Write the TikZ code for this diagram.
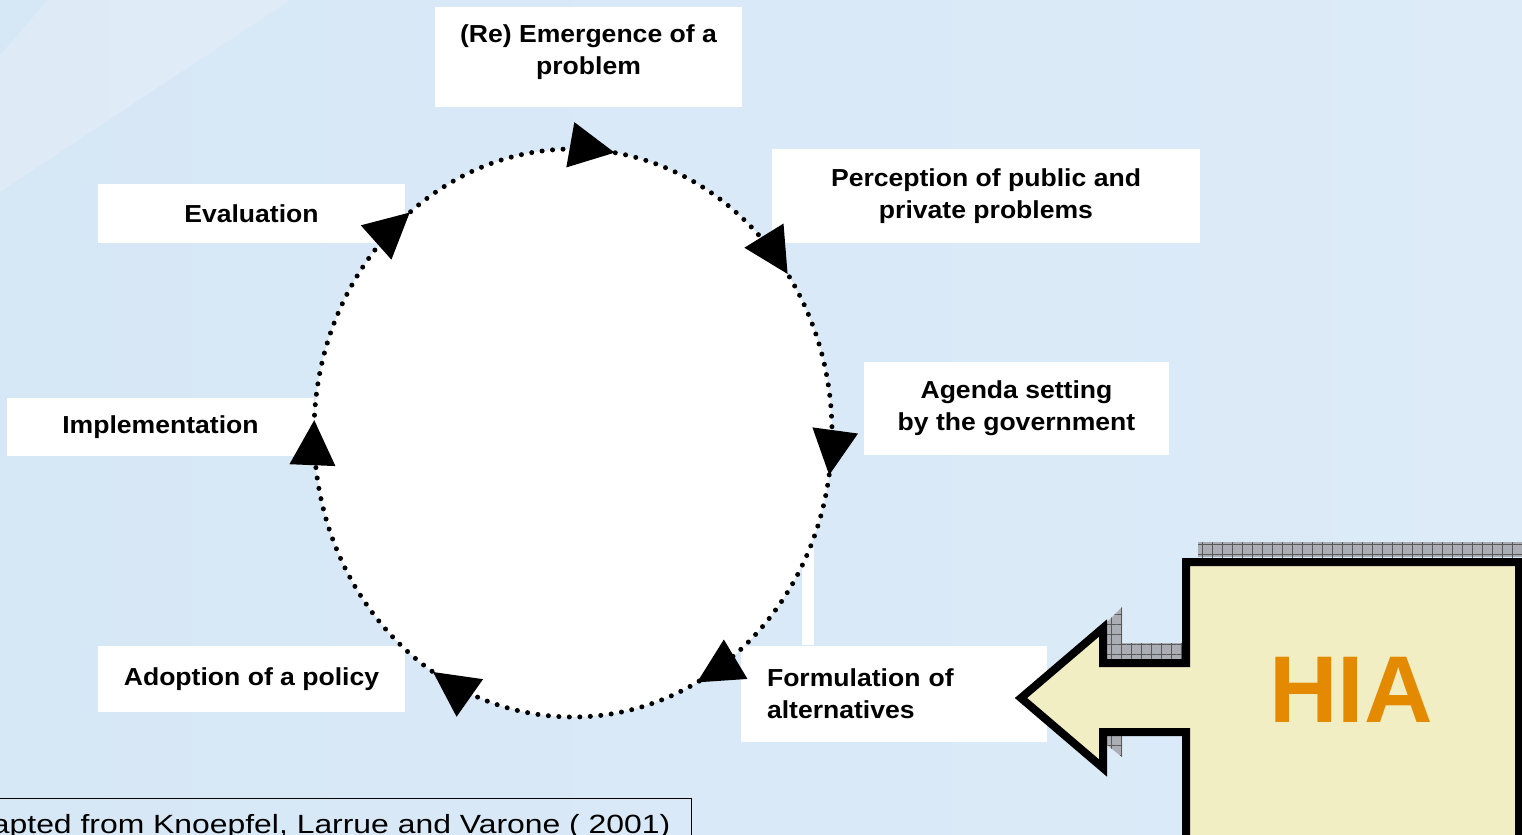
\documentclass[tikz,border=0pt]{standalone}
\usepackage{fontspec}
\setmainfont{Liberation Sans}
\newfontfamily\stagefont[FakeStretch=1.08]{Liberation Sans}
\newfontfamily\citefont[FakeStretch=1.21]{Liberation Sans}
\usetikzlibrary{
  positioning,
  arrows.meta,
  decorations.markings,
  patterns.meta
}

\definecolor{bgleft}{RGB}{214,231,246}
\definecolor{bgmid}{RGB}{233,243,251}
\definecolor{bgright}{RGB}{221,235,248}
\definecolor{hiafill}{RGB}{242,238,196}
\definecolor{hiaorange}{RGB}{227,138,0}
\definecolor{handlegray}{RGB}{170,174,180}

\tikzset{
  cyclehead/.tip = {Triangle[length=0.9cm, width=0.92cm, line width=0pt]},
  stagebox/.style = {fill=white, inner sep=0pt},
  stagetext/.style = {font=\stagefont\bfseries\fontsize{14}{18.3}\selectfont,
                      align=center, inner sep=0pt},
  cycleline/.style = {fill=white, line width=0.1cm, line cap=round,
                      dash pattern=on 0pt off 0.21cm},
  hiashape/.style = {draw=black, fill=hiafill, line width=0.16cm, line join=miter},
  handle/.style = {fill=handlegray,
                   postaction={pattern={Hatch[distance=5.7pt, line width=0.3pt]},
                               pattern color=gray!70!black}},
  citebox/.style = {draw=black, line width=0.8pt, inner xsep=0.42cm, inner ysep=0.32cm,
                    font=\citefont\fontsize{15}{18}\selectfont}
}

\begin{document}
\begin{tikzpicture}[x=0.02cm, y=-0.02cm]
  \useasboundingbox (0,0) rectangle (1522,835);
  % background
  \shade[left color=bgleft, middle color=bgmid, right color=bgright] (0,0) rectangle (1522,835);
  \fill[white, opacity=0.2] (0,55) -- (48,0) -- (290,0) -- (0,192) -- cycle;

  % stages of the cycle
  \node[stagebox, minimum width=6.14cm, minimum height=2cm] (emerge) at (588.5,57) {};
  \node[stagetext, below=0.36cm of emerge.north] (emergetxt) {(Re) Emergence of a\\problem};
  \node[stagebox, stagetext, minimum width=8.56cm, minimum height=1.88cm] (percep) at (986,196)
    {Perception of public and\\private problems};
  \node[stagebox, stagetext, minimum width=6.1cm, minimum height=1.86cm] (agenda) at (1016.5,408.5)
    {Agenda setting\\by the government};
  \node[stagebox, stagetext, align=left, text width=5.08cm, inner xsep=0.52cm,
        minimum height=1.92cm] (formul) at (894,694)
    {Formulation of\\alternatives};
  \node[stagebox, stagetext, minimum width=6.14cm, minimum height=1.32cm] (adopt) at (251.5,679)
    {Adoption of a policy};
  \node[stagebox, stagetext, minimum width=6.14cm, minimum height=1.16cm] (implem) at (160.5,427)
    {Implementation};
  \node[stagebox, stagetext, minimum width=6.14cm, minimum height=1.18cm] (eval) at (251.5,213.5)
    {Evaluation};
  \fill[white] (802,548) rectangle (814,645);

  % the cycle
  \draw[cycleline, postaction={decorate, decoration={markings,
      mark=at position 0.0247 with {\arrow{cyclehead}},
      mark=at position 0.1736 with {\arrow{cyclehead}},
      mark=at position 0.3375 with {\arrow{cyclehead}},
      mark=at position 0.5075 with {\arrow{cyclehead}},
      mark=at position 0.645 with {\arrow{cyclehead}},
      mark=at position 0.7745 with {\arrow{cyclehead}},
      mark=at position 0.902 with {\arrow{cyclehead}}}}]
    (573,433) ellipse [x radius=259, y radius=284];

  % HIA
  \fill[handle] (1198,542) rectangle (1522,557);
  \fill[handle] (1107,622) -- (1122,607) -- (1122,643) -- (1186,643) -- (1186,663) -- (1107,663) -- cycle;
  \fill[handle] (1107,732) -- (1122,732) -- (1122,757) -- (1107,745) -- cycle;
  \draw[hiashape] (1186,562) -- (1519,562) -- (1519,850) -- (1186,850) -- (1186,732)
    -- (1103,732) -- (1103,768) -- (1021,698) -- (1103,628) -- (1103,663) -- (1186,663) -- cycle;
  \node[font=\bfseries\fontsize{54}{60}\selectfont, text=hiaorange, inner sep=0pt] (hia) at (1351,690) {HIA};

  % source
  \node[citebox, anchor=north east] (cite) at (692,798) {Adapted from Knoepfel, Larrue and Varone ( 2001)};
\end{tikzpicture}
\end{document}
